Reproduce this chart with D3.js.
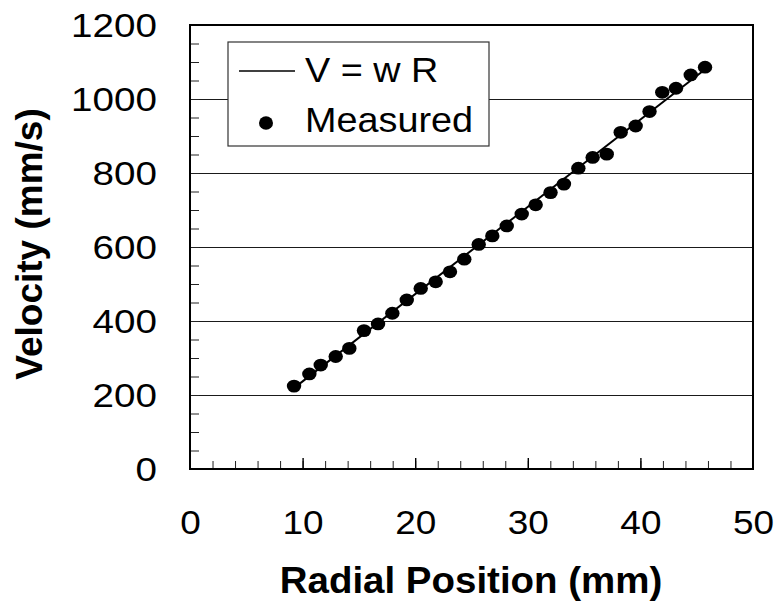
<!DOCTYPE html>
<html>
<head>
<meta charset="utf-8">
<script src="https://cdn.jsdelivr.net/npm/d3@7"></script>
<style>
  body { margin: 0; background: #fff; }
  text { font-family: Arial, "Liberation Sans", sans-serif; fill: #000; }
</style>
</head>
<body>
<svg id="chart"></svg>
<script>
// measured points
const radius = [9.24, 10.60, 11.61, 12.94, 14.15, 15.45, 16.70, 17.97, 19.25, 20.49,
  21.82, 23.09, 24.36, 25.64, 26.85, 28.13, 29.46, 30.70, 32.02, 33.21,
  34.49, 35.76, 37.01, 38.25, 39.58, 40.81, 41.94, 43.16, 44.47, 45.74];
const velocity = [224, 257, 281, 304, 326, 374, 392, 421, 457, 488,
  506, 533, 567, 607, 630, 657, 689, 714, 747, 770,
  813, 842, 851, 910, 927, 966, 1018, 1029, 1065, 1086];

// V = w R line end points
const fitR = [9.2, 45.7];
const fitV = [218, 1079];

const xTicks = [0, 10, 20, 30, 40, 50];
const yTicks = [0, 200, 400, 600, 800, 1000, 1200];
const gridValues = [200, 400, 600, 800, 1000];
const legendLabels = ["V = w R", "Measured"];

const margin = { top: 25, right: 23, bottom: 136, left: 190 };
const W = 776, H = 605;
const width = W - margin.left - margin.right;
const height = H - margin.top - margin.bottom;
const stretchY = 1.17;
const stretchX = 1.12;

const svg = d3.select("#chart").attr("width", W).attr("height", H);
svg.append("rect").attr("width", W).attr("height", H).attr("fill", "#fff");

const g = svg.append("g")
  .attr("transform", "translate(" + margin.left + "," + margin.top + ")");

const x = d3.scaleLinear().domain([0, 50]).range([0, width]);
const y = d3.scaleLinear().domain([0, 1200]).range([height, 0]);

// gridlines
g.append("g")
  .selectAll("line")
  .data(gridValues)
  .join("line")
  .attr("x1", 0).attr("x2", width)
  .attr("y1", d => y(d) + 0.5).attr("y2", d => y(d) + 0.5)
  .attr("stroke", "#1a1a1a")
  .attr("stroke-width", 1)
  .attr("shape-rendering", "crispEdges");

// minor / major ticks, pointing inside
const yTickAxis = g.append("g")
  .call(d3.axisLeft(y).tickValues(d3.range(50, 1200, 50)).tickSize(-9).tickFormat(""));
yTickAxis.select(".domain").remove();
yTickAxis.selectAll("line").attr("stroke", "#222");

const xMinor = g.append("g")
  .attr("transform", "translate(0," + height + ")")
  .call(d3.axisBottom(x).tickValues(d3.range(2, 50, 2)).tickSize(-8).tickFormat(""));
xMinor.select(".domain").remove();
xMinor.selectAll("line").attr("stroke", "#222");

const xMajor = g.append("g")
  .attr("transform", "translate(0," + height + ")")
  .call(d3.axisBottom(x).tickValues([10, 20, 30, 40]).tickSize(-11).tickFormat(""));
xMajor.select(".domain").remove();
xMajor.selectAll("line").attr("stroke", "#000").attr("stroke-width", 1.4);

// tick labels
const yLab = g.append("g")
  .call(d3.axisLeft(y).tickValues(yTicks).tickSize(0).tickPadding(33).tickFormat(d3.format("d")));
yLab.select(".domain").remove();
yLab.selectAll("text")
  .attr("font-size", 33)
  .attr("font-family", "Arial, 'Liberation Sans', sans-serif")
  .attr("x", -33 / stretchY)
  .attr("dy", "0.36em")
  .attr("transform", "scale(" + stretchY + ",1)");

const xLab = g.append("g")
  .attr("transform", "translate(0," + height + ")")
  .call(d3.axisBottom(x).tickValues(xTicks).tickSize(0).tickPadding(0).tickFormat(d3.format("d")));
xLab.select(".domain").remove();
xLab.selectAll("text")
  .attr("font-size", 33)
  .attr("font-family", "Arial, 'Liberation Sans', sans-serif")
  .attr("y", 65)
  .attr("dy", 0)
  .attr("transform", "scale(" + stretchX + ",1)");

// frame
g.append("rect")
  .attr("width", width).attr("height", height)
  .attr("fill", "none")
  .attr("stroke", "#000")
  .attr("stroke-width", 2);

// V = w R line
const fitData = fitR.map((r, i) => ({ r: r, v: fitV[i] }));
g.append("path")
  .datum(fitData)
  .attr("fill", "none")
  .attr("stroke", "#000")
  .attr("stroke-width", 2)
  .attr("d", d3.line().x(d => x(d.r)).y(d => y(d.v)));

// measured points
const pts = radius.map((r, i) => ({ r: r, v: velocity[i] }));
g.append("g")
  .selectAll("ellipse")
  .data(pts)
  .join("ellipse")
  .attr("cx", d => x(d.r))
  .attr("cy", d => y(d.v))
  .attr("rx", 7.2)
  .attr("ry", 6.4)
  .attr("fill", "#000");

// legend
const leg = svg.append("g").attr("transform", "translate(228,42)");
leg.append("rect")
  .attr("width", 261).attr("height", 104)
  .attr("fill", "#fff")
  .attr("stroke", "#333")
  .attr("stroke-width", 1.2);
leg.append("line")
  .attr("x1", 11).attr("x2", 67)
  .attr("y1", 29).attr("y2", 29)
  .attr("stroke", "#000").attr("stroke-width", 1.6);
leg.append("ellipse")
  .attr("cx", 38).attr("cy", 81)
  .attr("rx", 7).attr("ry", 6.8)
  .attr("fill", "#000");
leg.selectAll("text.lab")
  .data(legendLabels)
  .join("text")
  .attr("class", "lab")
  .attr("transform", (d, i) => "translate(77," + (40 + i * 50) + ") scale(1.08,1)")
  .attr("font-size", 35)
  .text(d => d);

// axis titles
svg.append("text")
  .attr("transform", "translate(471,593) scale(1.04,1)")
  .attr("text-anchor", "middle")
  .attr("font-size", 37)
  .attr("font-weight", "bold")
  .text("Radial Position (mm)");

svg.append("text")
  .attr("transform", "translate(42,244) rotate(-90)")
  .attr("text-anchor", "middle")
  .attr("font-size", 37)
  .attr("font-weight", "bold")
  .text("Velocity (mm/s)");
</script>
</body>
</html>
